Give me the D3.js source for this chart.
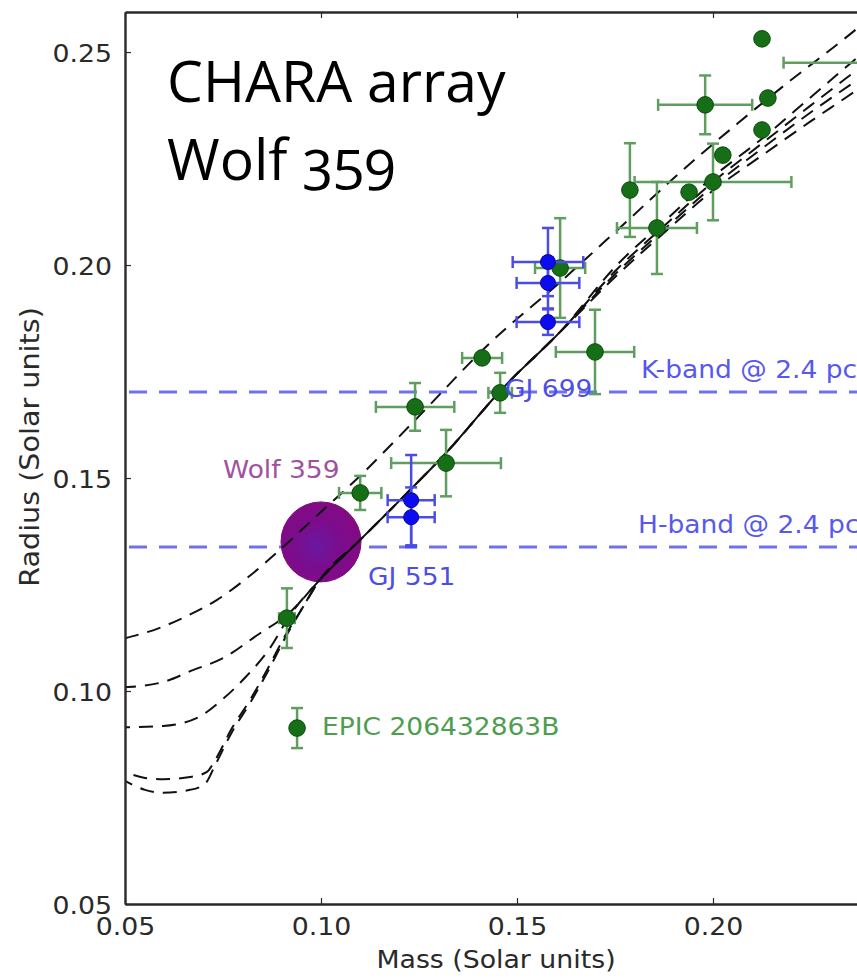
<!DOCTYPE html>
<html>
<head>
<meta charset="utf-8">
<script src="https://cdn.jsdelivr.net/npm/d3@7"></script>
<style>
  html, body { margin: 0; padding: 0; background: #fff; }
  svg { display: block; }
</style>
</head>
<body>
<div id="chart"></div>
<script>
// ---------------- DATA ----------------
// Green: literature M dwarfs (mass, radius, errors)
const greenMass      = [0.2125, 0.2450, 0.1980, 0.2140, 0.2125, 0.2025, 0.2000, 0.1788, 0.1939, 0.1857, 0.1610, 0.1699, 0.1411, 0.1457, 0.1240, 0.1319, 0.1100, 0.0913, 0.0939];
const greenRadius    = [0.2531, 0.2475, 0.2376, 0.2392, 0.2317, 0.2258, 0.2195, 0.2176, 0.2171, 0.2087, 0.1993, 0.1796, 0.1782, 0.1700, 0.1667, 0.1535, 0.1465, 0.1171, 0.0913];
const greenMassErr   = [0,      0.0270, 0.0120, 0,      0,      0,      0.0200, 0,      0,      0.0102, 0.0064, 0.0100, 0.0051, 0.0030, 0.0100, 0.0140, 0.0054, 0.0020, 0];
const greenRadiusErr = [0,      0,      0.0069, 0,      0,      0,      0.0090, 0.0110, 0,      0.0108, 0.0117, 0.0099, 0,      0.0047, 0.0056, 0.0078, 0.0040, 0.0070, 0.0047];

// Blue: interferometric radii
const blueMass      = [0.1579, 0.1579, 0.1579, 0.1230, 0.1230];
const blueRadius    = [0.2007, 0.1958, 0.1866, 0.1448, 0.1408];
const blueMassErr   = [0.0090, 0.0080, 0.0080, 0.0060, 0.0060];
const blueRadiusErr = [0.0080, 0.0060, 0.0030, 0.0106, 0.0070];

// Wolf 359 estimate
const wolfMass = [0.100];
const wolfRadius = [0.135];

// Angular-resolution limits
const bandNames = ["K-band @ 2.4 pc", "H-band @ 2.4 pc"];
const bandRadius = [0.1702, 0.1338];

// Model isochrones (mass, radius)
const curveAMass   = [0.0500, 0.0582, 0.0658, 0.0735, 0.0811, 0.0903, 0.0997, 0.1094, 0.1235, 0.1431, 0.1610, 0.1770, 0.1929, 0.2061, 0.2189, 0.2324, 0.2426];
const curveARadius = [0.1124, 0.1146, 0.1176, 0.1214, 0.1265, 0.1338, 0.1418, 0.1500, 0.1631, 0.1817, 0.1960, 0.2094, 0.2228, 0.2331, 0.2427, 0.2523, 0.2599];

const sharedMass   = [0.0997, 0.1099, 0.1209, 0.1321, 0.1464, 0.1610];
const sharedRadius = [0.1261, 0.1354, 0.1455, 0.1561, 0.1711, 0.1843];

const tailMass = [0.1755, 0.1878, 0.2000, 0.2120, 0.2247, 0.2367, 0.2500];

const curveBMass   = [0.0500, 0.0597, 0.0673, 0.0750, 0.0837, 0.0921];
const curveBRadius = [0.1009, 0.1021, 0.1049, 0.1077, 0.1131, 0.1185];
const curveBTailRadius = [0.2000, 0.2104, 0.2207, 0.2293, 0.2392, 0.2486, 0.2585];

const curveCMass   = [0.0500, 0.0597, 0.0684, 0.0747, 0.0806, 0.0870, 0.0921];
const curveCRadius = [0.0915, 0.0918, 0.0937, 0.0979, 0.1031, 0.1101, 0.1178];
const curveCTailRadius = [0.1990, 0.2094, 0.2195, 0.2282, 0.2373, 0.2458, 0.2552];

const curveDMass   = [0.0500, 0.0551, 0.0597, 0.0666, 0.0709, 0.0730, 0.0773, 0.0819, 0.0865, 0.0908, 0.0946];
const curveDRadius = [0.0810, 0.0796, 0.0793, 0.0798, 0.0810, 0.0838, 0.0913, 0.0979, 0.1054, 0.1129, 0.1185];
const curveDTailRadius = [0.1983, 0.2086, 0.2185, 0.2270, 0.2357, 0.2434, 0.2523];

const curveEMass   = [0.0500, 0.0551, 0.0597, 0.0666, 0.0704, 0.0730, 0.0773, 0.0819, 0.0865, 0.0908, 0.0946];
const curveERadius = [0.0789, 0.0768, 0.0761, 0.0768, 0.0782, 0.0826, 0.0904, 0.0972, 0.1047, 0.1124, 0.1185];
const curveETailRadius = [0.1976, 0.2078, 0.2175, 0.2254, 0.2336, 0.2411, 0.2500];

const xTicks = [0.05, 0.10, 0.15, 0.20];
const yTicks = [0.05, 0.10, 0.15, 0.20, 0.25];

// ---------------- CHART ----------------
const W = 857, H = 979;
const svg = d3.select("#chart").append("svg").attr("width", W).attr("height", H);

const x = d3.scaleLinear().domain([0.05, 0.25]).range([125, 909]);
const y = d3.scaleLinear().domain([0.05, 0.2594]).range([904, 12]);

function stretch(sel, k) {
  sel.each(function () {
    const l = this.getComputedTextLength();
    d3.select(this).attr("textLength", l * k).attr("lengthAdjust", "spacingAndGlyphs");
  });
}

const defs = svg.append("defs");
defs.append("clipPath").attr("id", "plotclip")
  .append("rect").attr("x", x(0.05)).attr("y", y(0.2594))
  .attr("width", x(0.25) - x(0.05)).attr("height", y(0.05) - y(0.2594));

const grad = defs.append("radialGradient").attr("id", "wolfgrad")
  .attr("cx", "45%").attr("cy", "55%").attr("r", "55%");
grad.append("stop").attr("offset", "0%").attr("stop-color", "#6a18a2");
grad.append("stop").attr("offset", "55%").attr("stop-color", "#7c0c8c");
grad.append("stop").attr("offset", "100%").attr("stop-color", "#840a84");

const plot = svg.append("g").attr("clip-path", "url(#plotclip)");

// Band lines
plot.selectAll(".band").data(bandRadius).join("line")
  .attr("x1", x(0.05)).attr("x2", x(0.25))
  .attr("y1", d => y(d)).attr("y2", d => y(d))
  .attr("stroke", "#7070f2").attr("stroke-width", 3)
  .attr("stroke-dasharray", "18,12").attr("stroke-dashoffset", -4);

// Wolf 359 marker
plot.selectAll(".wolf").data(wolfMass).join("circle")
  .attr("cx", d => x(d)).attr("cy", (d, i) => y(wolfRadius[i])).attr("r", 40)
  .attr("fill", "url(#wolfgrad)").attr("stroke", "#7a0a7a").attr("stroke-width", 1);

// Model curves
const line = d3.line().x(d => x(d[0])).y(d => y(d[1])).curve(d3.curveMonotoneX);
const zip = (m, r) => m.map((v, i) => [v, r[i]]);
const build = (m, r, tr) => zip(m.concat(sharedMass, tailMass), r.concat(sharedRadius, tr));
const curves = [
  { pts: zip(curveAMass, curveARadius), off: 0 },
  { pts: build(curveBMass, curveBRadius, curveBTailRadius), off: 3 },
  { pts: build(curveCMass, curveCRadius, curveCTailRadius), off: 9 },
  { pts: build(curveDMass, curveDRadius, curveDTailRadius), off: 14 },
  { pts: build(curveEMass, curveERadius, curveETailRadius), off: 6 }
];
plot.selectAll(".model").data(curves).join("path")
  .attr("d", d => line(d.pts))
  .attr("fill", "none").attr("stroke", "#111").attr("stroke-width", 2)
  .attr("stroke-dasharray", "14,9").attr("stroke-dashoffset", d => d.off);

// Error bars helper
function errorbars(g, ms, rs, mes, res, color, cap) {
  const data = ms.map((m, i) => ({ m, r: rs[i], me: mes[i], re: res[i] }));
  const eg = g.append("g").attr("stroke", color).attr("stroke-width", 2.5).attr("fill", "none");
  data.forEach(d => {
    if (d.me > 0) {
      eg.append("line").attr("x1", x(d.m - d.me)).attr("x2", x(d.m + d.me)).attr("y1", y(d.r)).attr("y2", y(d.r));
      [d.m - d.me, d.m + d.me].forEach(v => eg.append("line")
        .attr("x1", x(v)).attr("x2", x(v)).attr("y1", y(d.r) - cap).attr("y2", y(d.r) + cap));
    }
    if (d.re > 0) {
      eg.append("line").attr("x1", x(d.m)).attr("x2", x(d.m)).attr("y1", y(d.r - d.re)).attr("y2", y(d.r + d.re));
      [d.r - d.re, d.r + d.re].forEach(v => eg.append("line")
        .attr("x1", x(d.m) - cap).attr("x2", x(d.m) + cap).attr("y1", y(v)).attr("y2", y(v)));
    }
  });
  return data;
}

const gData = errorbars(plot, greenMass, greenRadius, greenMassErr, greenRadiusErr, "#5f9e5f", 6);
plot.append("g").selectAll("circle").data(gData).join("circle")
  .attr("cx", d => x(d.m)).attr("cy", d => y(d.r)).attr("r", 8.3)
  .attr("fill", "#166e16").attr("stroke", "#0d4a0d").attr("stroke-width", 1);

const bData = errorbars(plot, blueMass, blueRadius, blueMassErr, blueRadiusErr, "#4b4be6", 6);
plot.append("g").selectAll("circle").data(bData).join("circle")
  .attr("cx", d => x(d.m)).attr("cy", d => y(d.r)).attr("r", 7.5)
  .attr("fill", "#0c0cf0").attr("stroke", "#0a0a90").attr("stroke-width", 1);

// Annotations
const ann = svg.append("g").attr("font-family", "DejaVu Sans, sans-serif").attr("font-size", 25);
ann.append("text").attr("x", 223).attr("y", 478).attr("fill", "#a052a0").text("Wolf 359");
ann.append("text").attr("x", 368).attr("y", 585).attr("fill", "#4d4de8").text("GJ 551");
ann.append("text").attr("x", 505).attr("y", 397).attr("fill", "#4d4de8").text("GJ 699");
ann.append("text").attr("x", 322).attr("y", 735).attr("fill", "#4f9d4f").text("EPIC 206432863B");
ann.selectAll(".bandlab").data(bandNames).join("text")
  .attr("x", (d, i) => i === 0 ? 641 : 638).attr("y", (d, i) => y(bandRadius[i]) - 14)
  .attr("fill", "#5858ee").text(d => d);
stretch(ann.selectAll("text"), 1.06);

// Axes
const axG = svg.append("g").attr("font-family", "DejaVu Sans, sans-serif");
const yAxis = d3.axisLeft(y).tickValues(yTicks).tickFormat(d3.format(".2f"))
  .tickSizeInner(-6).tickSizeOuter(0).tickPadding(13);
const xAxis = d3.axisBottom(x).tickValues(xTicks).tickFormat(d3.format(".2f"))
  .tickSizeInner(-6).tickSizeOuter(0).tickPadding(13);
const xTop = d3.axisTop(x).tickValues(xTicks).tickFormat("").tickSizeInner(-6).tickSizeOuter(0);

const gy = axG.append("g").attr("transform", `translate(${x(0.05)},0)`).call(yAxis);
const gx = axG.append("g").attr("transform", `translate(0,${y(0.05)})`).call(xAxis);
const gt = axG.append("g").attr("transform", `translate(0,${y(0.2594)})`).call(xTop);
[gy, gx, gt].forEach(g => {
  g.select(".domain").attr("stroke", "#2a2a2a").attr("stroke-width", 2.4);
  g.selectAll(".tick line").attr("stroke", "#2a2a2a").attr("stroke-width", 1.2);
  g.selectAll(".tick text").attr("font-size", 25).attr("fill", "#2a2a2a").attr("font-family", "DejaVu Sans, sans-serif");
});
gy.selectAll(".tick text").attr("dy", "0.36em");
stretch(gy.selectAll(".tick text"), 1.07);
stretch(gx.selectAll(".tick text"), 1.07);

// Axis titles
const xt = axG.append("text").attr("x", 496).attr("y", 968).attr("text-anchor", "middle")
  .attr("font-size", 25).attr("fill", "#2a2a2a").text("Mass (Solar units)");
const yt = axG.append("text").attr("transform", "translate(39,447) rotate(-90)").attr("text-anchor", "middle")
  .attr("font-size", 26).attr("fill", "#2a2a2a").text("Radius (Solar units)");
stretch(xt, 1.07);
stretch(yt, 1.1);

// Big title
const title = svg.append("g").attr("font-family", "Open Sans, Lato, sans-serif").attr("font-size", 57)
  .attr("fill", "#000").style("font-variant-numeric", "oldstyle-nums");
title.append("text").attr("x", 167).attr("y", 102).text("CHARA array");
title.append("text").attr("x", 167).attr("y", 180).text("Wolf 359");
</script>
</body>
</html>
